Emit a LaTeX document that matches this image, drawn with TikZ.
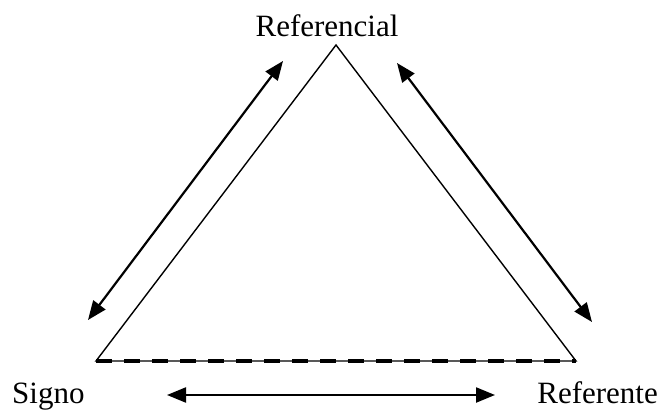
\documentclass[tikz,border=0pt]{standalone}
\usepackage{fontspec}
\setmainfont{Liberation Serif}
\usetikzlibrary{arrows.meta}
\begin{document}
\begin{tikzpicture}[x=1pt,y=1pt,
  lbl/.style={font=\fontsize{31}{31}\selectfont, inner sep=0pt},
  tri/.style={line width=1.4pt},
  dbl/.style={line width=2.2pt, {Triangle[length=19pt,width=15pt]}-{Triangle[length=19pt,width=15pt]}}]
\useasboundingbox (0,0) rectangle (661,410);
\coordinate (A) at (336,365);
\coordinate (B) at (96,49);
\coordinate (C) at (576,49);
\draw[tri] (B) -- (A) -- (C) -- cycle;
\draw[line width=3.5pt, dash pattern=on 16pt off 12pt] (B) -- (C);
\node[lbl, anchor=base] (ref) at (327,373) {Referencial};
\node[lbl, anchor=base west] (sig) at (12,7) {Signo};
\node[lbl, anchor=base east] (rfe) at (658,7) {Referente};
\coordinate (l1) at (283,349);
\coordinate (l2) at (88,90);
\coordinate (r1) at (397,347);
\coordinate (r2) at (592,88);
\coordinate (b1) at (167,15);
\coordinate (b2) at (495,15);
\draw[dbl] (l1) -- (l2);
\draw[dbl] (r1) -- (r2);
\draw[dbl] (b1) -- (b2);
\end{tikzpicture}
\end{document}
